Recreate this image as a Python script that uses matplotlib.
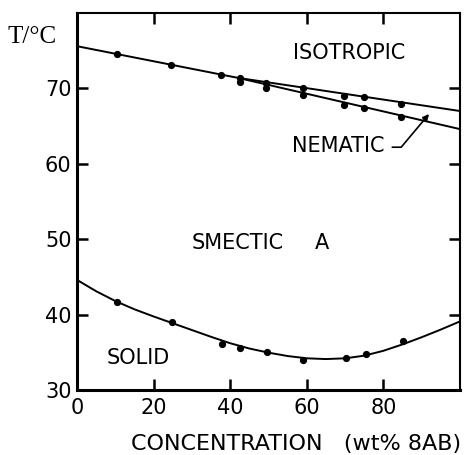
import matplotlib
matplotlib.use("Agg")
import matplotlib.pyplot as plt

# measured transition temperatures (wt% 8AB, deg C)
conc_upper = [10.4, 24.5, 37.5, 42.5, 49.3, 58.9, 69.6, 74.8, 84.5]
t_upper = [74.5, 73.1, 71.75, 71.35, 70.7, 70.0, 69.0, 68.9, 67.9]
conc_lower = [42.5, 49.3, 58.9, 69.6, 74.8, 84.5]
t_lower = [70.9, 70.0, 69.1, 67.8, 67.4, 66.2]
conc_solid = [10.4, 24.8, 37.8, 42.5, 49.7, 59.0, 70.1, 75.4, 85.0]
t_solid = [41.7, 39.0, 36.1, 35.6, 35.0, 34.0, 34.3, 34.8, 36.5]

# phase boundaries as drawn
smi_conc = [0, 42]
smi_t = [75.6, 71.4]
ni_conc = [42, 100]
ni_t = [71.4, 67.0]
sn_conc = [42, 100]
sn_t = [71.4, 64.6]
melt_conc = [0, 5, 10, 15, 20, 25, 30, 35, 40, 45, 50,
             55, 60, 65, 70, 75, 80, 85, 90, 95, 100]
melt_t = [44.6, 43.1, 41.8, 40.7, 39.75, 38.85, 37.95, 37.05, 36.2, 35.5, 34.95,
          34.5, 34.2, 34.1, 34.2, 34.55, 35.2, 36.05, 37.0, 38.02, 39.1]

x_ticks = [0, 20, 40, 60, 80]
y_ticks = [30, 40, 50, 60, 70]

font = "DejaVu Sans"
fs = 15

fig = plt.figure(figsize=(4.68, 4.55), dpi=100)
ax = fig.add_axes([0.1645, 0.1429, 0.8185, 0.8285])

line_kw = dict(color="black", lw=1.4, solid_capstyle="butt", solid_joinstyle="round")
ax.plot(smi_conc, smi_t, **line_kw)
ax.plot(ni_conc, ni_t, **line_kw)
ax.plot(sn_conc, sn_t, **line_kw)
ax.plot(melt_conc, melt_t, **line_kw)

pt_kw = dict(ls="none", marker="o", ms=4.2, color="black")
ax.plot(conc_upper, t_upper, **pt_kw)
ax.plot(conc_lower, t_lower, **pt_kw)
ax.plot(conc_solid, t_solid, **pt_kw)

ax.set_xlim(0, 100)
ax.set_ylim(30, 80)
ax.set_xticks(x_ticks)
ax.set_yticks(y_ticks)
ax.tick_params(axis="both", direction="in", length=8, width=1.8,
               labelsize=fs, top=True, right=True)
ax.tick_params(axis="x", pad=6)
ax.tick_params(axis="y", pad=4)
for lab in ax.get_xticklabels() + ax.get_yticklabels():
    lab.set_family(font)

for side in ["left", "bottom"]:
    ax.spines[side].set_linewidth(2.2)
for side in ["top", "right"]:
    ax.spines[side].set_linewidth(1.5)

txt = dict(fontsize=fs, family=font, va="baseline")
ax.text(71.1, 73.85, "ISOTROPIC", ha="center", **txt)
ax.text(29.9, 48.7, "SMECTIC", ha="left", **txt)
ax.text(62.0, 48.7, "A", ha="left", **txt)
ax.text(7.8, 33.5, "SOLID", ha="left", **txt)
ax.text(68.1, 61.5, "NEMATIC", ha="center", **txt)

ax.annotate("", xy=(91.9, 66.6), xytext=(82.3, 62.2),
            arrowprops=dict(arrowstyle="-|>", color="black", lw=1.2,
                            mutation_scale=9, shrinkA=0, shrinkB=0,
                            connectionstyle="angle,angleA=0,angleB=50,rad=0"))

ax.text(0.572, -0.158, "CONCENTRATION   (wt% 8AB)", transform=ax.transAxes,
        ha="center", va="baseline", fontsize=16, family=font)

fig.text(8 / 468, 1 - 43 / 455, "T/°C", ha="left", va="baseline",
         fontsize=18, family="Liberation Serif")

fig.savefig("out.png", dpi=100)
